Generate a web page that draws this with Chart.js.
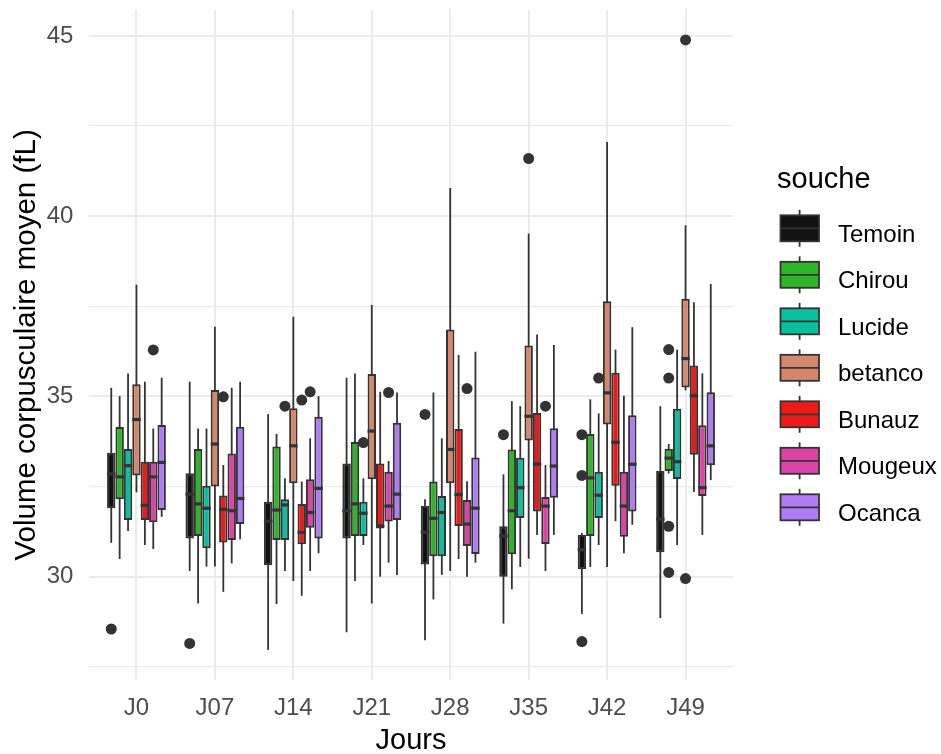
<!DOCTYPE html>
<html>
<head>
<meta charset="utf-8">
<script src="https://cdn.jsdelivr.net/npm/chart.js@4.4.0/dist/chart.umd.min.js"></script>
<style>
  body { margin: 0; background: #fff; }
  #wrap { width: 941px; height: 754px; }
</style>
</head>
<body>
<div id="wrap"><canvas id="boxChart" width="941" height="754"></canvas></div>
<script>
const days = ["J0", "J07", "J14", "J21", "J28", "J35", "J42", "J49"];
const strains = ["Temoin", "Chirou", "Lucide", "betanco", "Bunauz", "Mougeux", "Ocanca"];
const colors = ["#121212", "#2eb52a", "#0bc09e", "#d4876c", "#ee1a1a", "#dc44a6", "#b07cf5"];

// [lower whisker, Q1, median, Q3, upper whisker] for each day
const temoin = [[30.94, 31.90, 32.85, 33.44, 35.24], [30.16, 31.06, 32.29, 32.87, 35.41], [27.97, 30.32, 31.54, 32.08, 34.51], [28.46, 31.06, 31.83, 33.14, 35.52],
                [28.24, 30.34, 31.23, 31.96, 32.15], [28.70, 30.00, 31.13, 31.40, 32.84], [28.97, 30.21, 30.75, 31.16, 31.21], [28.85, 30.68, 31.60, 32.93, 34.73]];
const chirou = [[30.49, 32.15, 32.77, 34.15, 35.01], [29.26, 31.13, 32.02, 33.54, 34.11], [29.24, 31.02, 31.85, 33.61, 33.96], [29.88, 31.13, 32.02, 33.74, 35.64],
                [29.37, 30.57, 31.62, 32.64, 35.11], [29.65, 30.62, 31.83, 33.53, 34.87], [30.27, 31.13, 32.74, 33.96, 34.92], [32.86, 32.93, 33.29, 33.55, 33.68]];
const lucide = [[31.27, 31.57, 33.08, 33.54, 35.64], [30.28, 30.79, 31.90, 32.52, 34.11], [30.16, 31.02, 31.99, 32.15, 32.73], [30.88, 31.13, 31.76, 32.08, 32.73],
                [30.05, 30.57, 31.78, 32.24, 33.84], [30.27, 31.63, 32.47, 33.30, 34.73], [30.88, 31.63, 32.26, 32.91, 34.53], [30.88, 32.71, 33.19, 34.66, 36.30]];
const betanco = [[32.34, 32.81, 34.36, 35.34, 38.10], [30.28, 32.50, 33.68, 35.18, 36.93], [29.88, 32.59, 33.63, 34.67, 37.21], [29.26, 32.70, 34.04, 35.62, 37.54],
                 [30.16, 32.59, 33.53, 36.86, 40.78], [30.50, 33.78, 34.45, 36.41, 39.52], [30.27, 34.22, 35.10, 37.64, 42.06], [35.17, 35.25, 36.05, 37.71, 39.75]];
const bunauz = [[30.88, 31.57, 31.98, 33.19, 35.41], [29.58, 30.95, 31.87, 32.25, 33.10], [29.47, 30.90, 31.23, 32.02, 32.64], [30.00, 31.34, 31.41, 33.14, 35.13],
                [30.49, 31.41, 32.28, 34.10, 36.15], [31.16, 31.81, 33.12, 34.54, 36.72], [31.54, 32.52, 33.73, 35.66, 36.30], [32.35, 33.38, 35.02, 35.86, 37.61]];
const mougeux = [[30.77, 31.51, 32.77, 33.19, 34.11], [30.37, 31.02, 31.83, 33.42, 35.24], [30.16, 31.36, 31.78, 32.70, 33.84], [30.39, 31.53, 31.96, 32.91, 33.21],
                 [30.00, 30.85, 31.46, 32.13, 32.65], [30.16, 30.91, 31.96, 32.21, 33.10], [30.65, 31.11, 31.96, 32.91, 35.02], [31.16, 32.24, 32.47, 34.20, 35.64]];
const ocanca = [[31.66, 31.85, 33.17, 34.21, 35.52], [31.04, 31.46, 32.17, 34.16, 35.41], [30.65, 31.06, 32.45, 34.44, 35.01], [30.05, 31.57, 32.29, 34.27, 35.11],
                [30.39, 30.63, 31.90, 33.31, 36.24], [31.16, 32.19, 33.07, 34.12, 36.43], [31.44, 31.81, 33.12, 34.48, 36.92], [32.68, 33.09, 33.63, 35.12, 38.12]];

// outliers for each day
const temoinOut = [[28.55], [28.15], [], [], [34.50], [33.94], [33.94, 32.81, 28.20], []];
const chirouOut = [[], [], [], [], [], [], [], [36.30, 35.51, 31.40, 30.12]];
const lucideOut = [[], [], [34.73], [33.72], [], [], [35.51], []];
const betancoOut = [[], [], [], [], [], [41.60], [], [44.89, 29.95]];
const bunauzOut = [[], [34.99], [34.90], [], [], [], [], []];
const mougeuxOut = [[36.29], [], [35.13], [35.11], [35.22], [34.73], [], []];
const ocancaOut = [[], [], [], [], [], [], [], []];

const stats = [temoin, chirou, lucide, betanco, bunauz, mougeux, ocanca];
const outs = [temoinOut, chirouOut, lucideOut, betancoOut, bunauzOut, mougeuxOut, ocancaOut];

const FONT = "'Liberation Sans', Arial, sans-serif";
const LINE = "#333333";

const datasets = strains.map((name, i) => ({
    label: name,
    data: stats[i].map((s, j) => ({ x: j, y: [s[1], s[3]] })),
    backgroundColor: colors[i],
    borderColor: LINE,
    borderWidth: 2,
    borderSkipped: false,
    categoryPercentage: 0.75,
    barPercentage: 1.0
}));

// whiskers behind the boxes, medians and outliers on top
const boxParts = {
    id: "boxParts",
    beforeDatasetsDraw(chart) {
        const ctx = chart.ctx, y = chart.scales.y;
        ctx.save();
        ctx.strokeStyle = LINE;
        ctx.lineWidth = 1.8;
        stats.forEach((series, i) => {
            chart.getDatasetMeta(i).data.forEach((bar, j) => {
                ctx.beginPath();
                ctx.moveTo(bar.x, y.getPixelForValue(series[j][0]));
                ctx.lineTo(bar.x, y.getPixelForValue(series[j][4]));
                ctx.stroke();
            });
        });
        ctx.restore();
    },
    afterDatasetsDraw(chart) {
        const ctx = chart.ctx, y = chart.scales.y;
        ctx.save();
        ctx.strokeStyle = LINE;
        ctx.fillStyle = LINE;
        stats.forEach((series, i) => {
            chart.getDatasetMeta(i).data.forEach((bar, j) => {
                const half = bar.width / 2;
                const ym = y.getPixelForValue(series[j][2]);
                ctx.lineWidth = 3.2;
                ctx.beginPath();
                ctx.moveTo(bar.x - half, ym);
                ctx.lineTo(bar.x + half, ym);
                ctx.stroke();
                outs[i][j].forEach(v => {
                    ctx.beginPath();
                    ctx.arc(bar.x, y.getPixelForValue(v), 5.5, 0, Math.PI * 2);
                    ctx.fill();
                });
            });
        });
        ctx.restore();
    },
    afterDraw(chart) {
        const ctx = chart.ctx;
        ctx.save();
        ctx.fillStyle = "#000";
        ctx.font = "29px " + FONT;
        ctx.textBaseline = "alphabetic";
        ctx.fillText("souche", 777, 188);
        strains.forEach((name, k) => {
            const cy = 228.3 + 46.5 * k;
            ctx.strokeStyle = LINE;
            ctx.lineWidth = 1.8;
            ctx.beginPath();
            ctx.moveTo(799.6, cy - 18.5);
            ctx.lineTo(799.6, cy + 18.5);
            ctx.stroke();
            ctx.fillStyle = colors[k];
            ctx.fillRect(780.5, cy - 13, 38.5, 26);
            ctx.strokeRect(780.5, cy - 13, 38.5, 26);
            ctx.beginPath();
            ctx.moveTo(780.5, cy);
            ctx.lineTo(819, cy);
            ctx.stroke();
            ctx.fillStyle = "#000";
            ctx.font = "24px " + FONT;
            ctx.fillText(name, 838, cy + 13.4);
        });
        ctx.restore();
    }
};

new Chart(document.getElementById("boxChart"), {
    type: "bar",
    data: { datasets: datasets },
    plugins: [boxParts],
    options: {
        responsive: false,
        animation: false,
        events: [],
        layout: { padding: { left: 0, right: 208.4, top: 9.4, bottom: 0 } },
        plugins: { legend: { display: false }, tooltip: { enabled: false } },
        scales: {
            x: {
                type: "linear",
                min: -0.6,
                max: 7.6,
                offset: false,
                afterFit: s => { s.height = 73.6; s.paddingLeft = 0; s.paddingRight = 0; },
                ticks: {
                    stepSize: 1,
                    includeBounds: false,
                    autoSkip: false,
                    maxRotation: 0,
                    padding: 14,
                    color: "#4d4d4d",
                    font: { family: FONT, size: 24 },
                    callback: v => days[v] ?? ""
                },
                grid: { color: "#ebebeb", lineWidth: 2, drawTicks: false, offset: false },
                border: { display: false },
                title: {
                    display: true,
                    text: "Jours",
                    color: "#000",
                    font: { family: FONT, size: 29, lineHeight: 0.9 },
                    padding: { top: 0, bottom: 0 }
                }
            },
            y: {
                min: 27.124,
                max: 45.736,
                afterFit: s => { s.width = 89.4; s.paddingTop = 0; s.paddingBottom = 0; },
                ticks: {
                    stepSize: 2.5,
                    includeBounds: false,
                    padding: 16,
                    color: "#4d4d4d",
                    font: { family: FONT, size: 24 },
                    callback: v => (v % 5 === 0 ? v : "")
                },
                grid: {
                    color: "#ebebeb",
                    lineWidth: c => (c.tick && c.tick.value % 5 === 0 ? 2 : 1.2),
                    drawTicks: false
                },
                border: { display: false },
                title: {
                    display: true,
                    text: "Volume corpusculaire moyen (fL)",
                    color: "#000",
                    font: { family: FONT, size: 29.5, lineHeight: 1.2 },
                    padding: { top: 9, bottom: 0 }
                }
            }
        }
    }
});
</script>
</body>
</html>
